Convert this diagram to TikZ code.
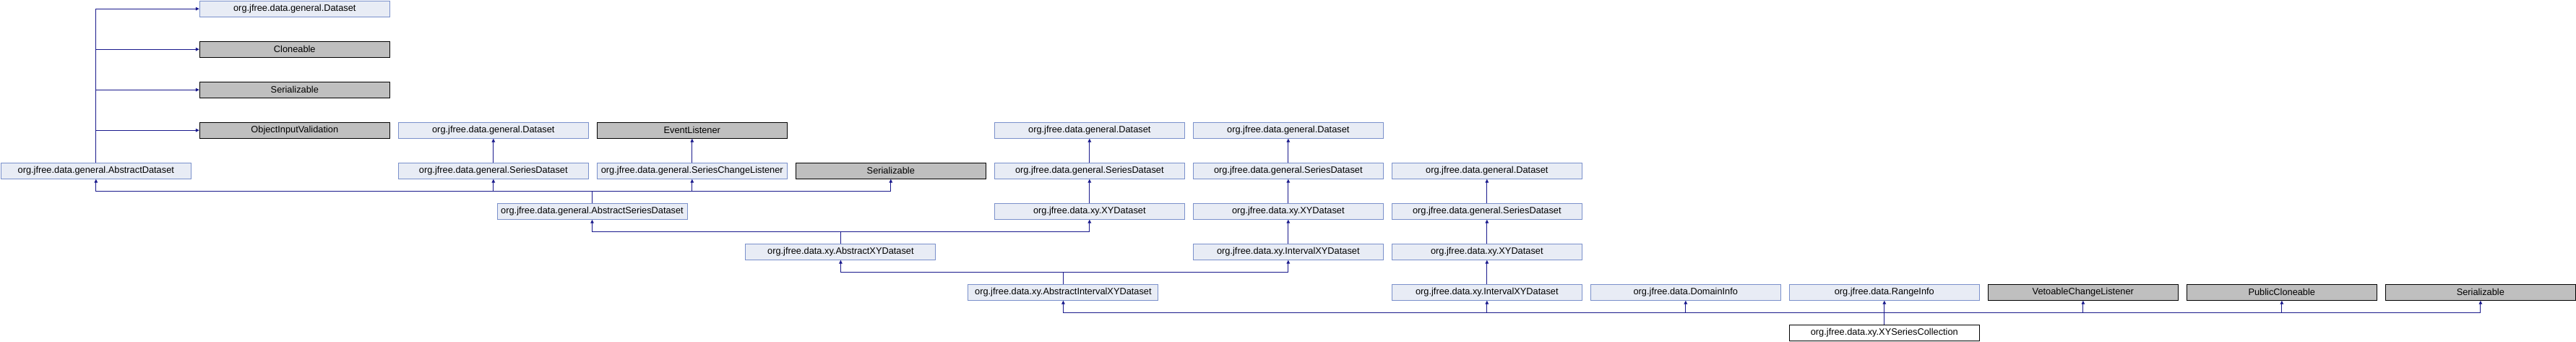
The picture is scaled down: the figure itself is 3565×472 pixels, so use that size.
\documentclass[tikz,border=0pt]{standalone}
\usepackage{fontspec}
\setmainfont{Liberation Sans}
\usetikzlibrary{arrows.meta}
\definecolor{edgeblue}{RGB}{25,25,140}
\definecolor{boxborder}{RGB}{122,144,203}
\definecolor{boxfill}{RGB}{232,236,245}
\definecolor{grayfill}{RGB}{191,191,191}
\tikzset{
  box/.style={draw=boxborder, fill=boxfill, line width=1pt, minimum width=263pt, minimum height=22pt, inner sep=0pt, anchor=center, font=\fontsize{12.8}{14}\selectfont},
  ext/.style={box, draw=black, fill=grayfill},
  self/.style={box, draw=black, fill=white},
  edge/.style={draw=edgeblue, line width=1.2pt, -{Triangle[length=5pt,width=4.5pt]}}
}
\begin{document}
\begin{tikzpicture}[x=1pt,y=1pt]
\useasboundingbox (0,0) rectangle (3565,-472);
% row 0
\node[box] (ds0) at (407.8,-12.2) {org.jfree.data.general.Dataset};
% row 1
\node[ext] (clone) at (407.8,-68.2) {Cloneable};
% row 2
\node[ext] (ser1) at (407.8,-124.2) {Serializable};
% row 3
\node[ext] (oiv) at (407.8,-180.2) {ObjectInputValidation};
\node[box] (ds2) at (682.8,-180.2) {org.jfree.data.general.Dataset};
\node[ext] (evl) at (957.8,-180.2) {EventListener};
\node[box] (ds5) at (1507.8,-180.2) {org.jfree.data.general.Dataset};
\node[box] (ds6) at (1782.8,-180.2) {org.jfree.data.general.Dataset};
% row 4
\node[box] (absds) at (132.8,-236.2) {org.jfree.data.general.AbstractDataset};
\node[box] (sds2) at (682.8,-236.2) {org.jfree.data.general.SeriesDataset};
\node[box] (scl) at (957.8,-236.2) {org.jfree.data.general.SeriesChangeListener};
\node[ext] (ser4) at (1232.8,-236.2) {Serializable};
\node[box] (sds5) at (1507.8,-236.2) {org.jfree.data.general.SeriesDataset};
\node[box] (sds6) at (1782.8,-236.2) {org.jfree.data.general.SeriesDataset};
\node[box] (ds7) at (2057.8,-236.2) {org.jfree.data.general.Dataset};
% row 5
\node[box] (asd) at (819.5,-292.2) {org.jfree.data.general.AbstractSeriesDataset};
\node[box] (xy5) at (1507.8,-292.2) {org.jfree.data.xy.XYDataset};
\node[box] (xy6) at (1782.8,-292.2) {org.jfree.data.xy.XYDataset};
\node[box] (sds7) at (2057.8,-292.2) {org.jfree.data.general.SeriesDataset};
% row 6
\node[box] (axy) at (1163.4,-348.2) {org.jfree.data.xy.AbstractXYDataset};
\node[box] (ixy6) at (1782.8,-348.2) {org.jfree.data.xy.IntervalXYDataset};
\node[box] (xy7) at (2057.8,-348.2) {org.jfree.data.xy.XYDataset};
% row 7
\node[box] (aixy) at (1471.4,-404.2) {org.jfree.data.xy.AbstractIntervalXYDataset};
\node[box] (ixy7) at (2057.8,-404.2) {org.jfree.data.xy.IntervalXYDataset};
\node[box] (dom) at (2332.8,-404.2) {org.jfree.data.DomainInfo};
\node[box] (rng) at (2607.8,-404.2) {org.jfree.data.RangeInfo};
\node[ext] (veto) at (2882.8,-404.2) {VetoableChangeListener};
\node[ext] (pubc) at (3157.8,-404.2) {PublicCloneable};
\node[ext] (ser12) at (3432.8,-404.2) {Serializable};
% row 8
\node[self] (xysc) at (2607.8,-460.2) {org.jfree.data.xy.XYSeriesCollection};
% edges
\foreach \t in {ds0,clone,ser1,oiv} \draw[edge] (absds.north) |- (\t.west);
\foreach \t in {absds,sds2,scl,ser4} \draw[edge] (asd.north) -- ++(0,16.5) -| (\t.south);
\draw[edge] (sds2.north) -- (ds2.south);
\draw[edge] (scl.north) -- (evl.south);
\foreach \t in {asd,xy5} \draw[edge] (axy.north) -- ++(0,16.5) -| (\t.south);
\draw[edge] (sds5.north) -- (ds5.south);
\draw[edge] (xy5.north) -- (sds5.south);
\draw[edge] (sds6.north) -- (ds6.south);
\draw[edge] (xy6.north) -- (sds6.south);
\draw[edge] (ixy6.north) -- (xy6.south);
\foreach \t in {axy,ixy6} \draw[edge] (aixy.north) -- ++(0,16.5) -| (\t.south);
\draw[edge] (sds7.north) -- (ds7.south);
\draw[edge] (xy7.north) -- (sds7.south);
\draw[edge] (ixy7.north) -- (xy7.south);
\foreach \t in {aixy,ixy7,dom,rng,veto,pubc,ser12} \draw[edge] (xysc.north) -- ++(0,16.5) -| (\t.south);
\end{tikzpicture}
\end{document}
